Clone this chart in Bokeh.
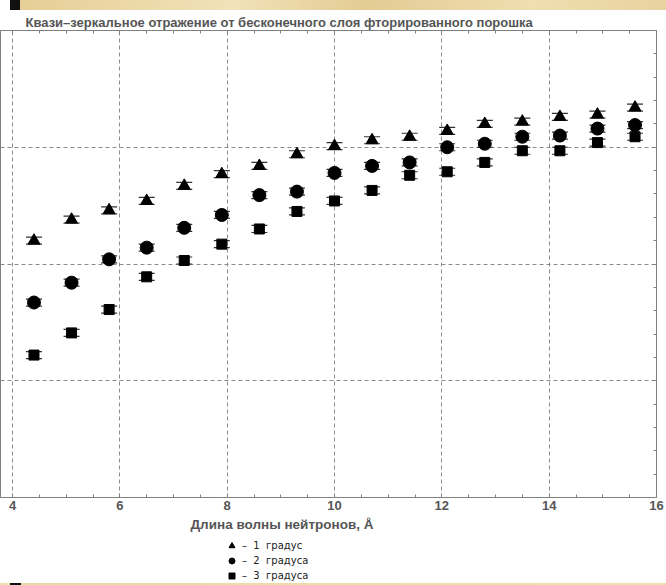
from bokeh.plotting import figure
from bokeh.models import (Range1d, LinearAxis, SingleIntervalTicker, ColumnDataSource,
                          Whisker, TeeHead, Title, Label, Legend, LegendItem, Div,
                          CustomJSTickFormatter)
from bokeh.layouts import column
from bokeh.embed import file_html
from bokeh.resources import INLINE

# Neutron wavelength, Å
wavelength = [4.4, 5.1, 5.8, 6.5, 7.2, 7.9, 8.6, 9.3, 10.0, 10.7, 11.4,
              12.1, 12.8, 13.5, 14.2, 14.9, 15.6]

# Quasi-specular reflectivity for three glancing angles
refl_1deg = [0.220, 0.238, 0.246, 0.254, 0.267, 0.277, 0.284, 0.294, 0.301,
             0.306, 0.309, 0.314, 0.320, 0.322, 0.326, 0.328, 0.334]
refl_2deg = [0.167, 0.184, 0.204, 0.214, 0.231, 0.242, 0.259, 0.262, 0.278,
             0.284, 0.287, 0.300, 0.303, 0.309, 0.310, 0.316, 0.319]
refl_3deg = [0.122, 0.141, 0.161, 0.189, 0.203, 0.217, 0.230, 0.245, 0.254,
             0.263, 0.276, 0.279, 0.287, 0.297, 0.297, 0.304, 0.309]
refl_error = 0.003

series_labels = ["–\u00a0 1\u00a0 градус", "–\u00a0 2\u00a0 градуса", "–\u00a0 3\u00a0 градуса"]
series_markers = ["triangle", "circle", "square"]
series_sizes = [12, 13, 10]

title_text = "Квази–зеркальное отражение от бесконечного слоя фторированного порошка"
x_title = "Длина волны нейтронов, Å"

FONT = "Liberation Sans"
GRAY_TEXT = "#555555"
FRAME = "#808080"

# ---- main plot -------------------------------------------------------------
p = figure(width=666, height=507,
           x_range=Range1d(3.776, 16), y_range=Range1d(0, 0.4),
           output_backend="svg", toolbar_location=None,
           y_axis_location="right",
           min_border_left=0, min_border_right=10,
           min_border_top=20, min_border_bottom=20,
           background_fill_color="white", border_fill_color="white",
           outline_line_color=FRAME)

x_ticker = SingleIntervalTicker(interval=2, num_minor_ticks=4)
y_ticker = SingleIntervalTicker(interval=0.1, num_minor_ticks=5)
blank = CustomJSTickFormatter(code="return '';")

def style_axis(ax, ticker, show_labels):
    ax.ticker = ticker
    ax.axis_line_color = FRAME
    ax.major_tick_line_color = FRAME
    ax.minor_tick_line_color = FRAME
    ax.major_tick_in = 4
    ax.major_tick_out = 0
    ax.minor_tick_in = 3
    ax.minor_tick_out = 0
    if show_labels:
        ax.major_label_text_font = FONT
        ax.major_label_text_font_style = "bold"
        ax.major_label_text_font_size = "13px"
        ax.major_label_text_color = GRAY_TEXT
        ax.major_label_standoff = 3
    else:
        ax.formatter = blank
        ax.major_label_standoff = 0

style_axis(p.xaxis[0], x_ticker, True)
style_axis(p.yaxis[0], y_ticker, False)

top_axis = LinearAxis()
style_axis(top_axis, x_ticker, False)
p.add_layout(top_axis, "above")

p.xgrid.ticker = x_ticker
p.ygrid.ticker = y_ticker
for g in (p.xgrid[0], p.ygrid[0]):
    g.grid_line_color = "#8c8c8c"
    g.grid_line_dash = "4 3"
    g.grid_line_width = 1

sources = []
for vals, marker, size in zip([refl_1deg, refl_2deg, refl_3deg], series_markers, series_sizes):
    src = ColumnDataSource(dict(
        x=wavelength, y=vals,
        lo=[v - refl_error for v in vals],
        hi=[v + refl_error for v in vals],
    ))
    sources.append(src)
    w = Whisker(base="x", lower="lo", upper="hi", source=src, dimension="height",
                line_color="#333333", line_width=1,
                lower_head=TeeHead(size=16, line_color="#333333", line_width=1.2),
                upper_head=TeeHead(size=16, line_color="#333333", line_width=1.2))
    p.add_layout(w)
    p.scatter("x", "y", source=src, marker=marker, size=size,
              fill_color="black", line_color="black")

p.title = Title(text=title_text, align="left", offset=25, standoff=2,
                text_font=FONT, text_font_style="bold", text_font_size="13px",
                text_color=GRAY_TEXT)

# ---- caption and key strip under the plot ----------------------------------
# The key's glyphs come from renderers of the same series; their points fall
# outside this strip's ranges, so only the legend swatches show.
cap = figure(width=666, height=66, x_range=Range1d(0, 1), y_range=Range1d(0, 1),
             output_backend="svg", toolbar_location=None,
             min_border_left=0, min_border_right=0, min_border_top=0, min_border_bottom=0,
             x_axis_location=None, y_axis_location=None,
             outline_line_color=None, background_fill_color="white",
             border_fill_color="white")
cap.grid.visible = False

cap.add_layout(Label(x=190, y=59, x_units="screen", y_units="screen", text=x_title,
                     text_font=FONT, text_font_style="bold", text_font_size="13.5px",
                     text_color=GRAY_TEXT, text_baseline="middle", text_align="left"))

key_renderers = [cap.scatter("x", "y", source=src, marker=m,
                             fill_color="black", line_color="black")
                 for src, m in zip(sources, series_markers)]

legend = Legend(items=[LegendItem(label=lbl, renderers=[r])
                       for lbl, r in zip(series_labels, key_renderers)],
                location=(224, 0), orientation="vertical",
                glyph_width=15, glyph_height=15, label_height=15,
                label_standoff=3, spacing=0, padding=0, margin=0,
                border_line_color=None, background_fill_alpha=0,
                label_text_font="DejaVu Sans", label_text_font_size="10px",
                label_text_color="#222222")
cap.add_layout(legend)

top_strip = Div(width=666, height=10, styles={
    "background": "linear-gradient(90deg, #ffffff 0px, #ffffff 10px, #111111 10px, #111111 20px, "
                  "#e6ce96 20px, #f2e2b9 35%, #e3cb93 55%, #f0deb1 80%, #e8d39f 100%)",
    "margin": "0", "padding": "0"})
bottom_strip = Div(width=666, height=2, styles={
    "background": "linear-gradient(90deg, #eedfb0 0px, #eedfb0 10px, #111111 10px, #111111 21px, "
                  "#ecd9a5 21px, #f0dfb0 100%)",
    "margin": "0", "padding": "0"})

layout = column(top_strip, p, cap, bottom_strip, spacing=0)

open("out.html", "w").write(file_html(layout, INLINE))
